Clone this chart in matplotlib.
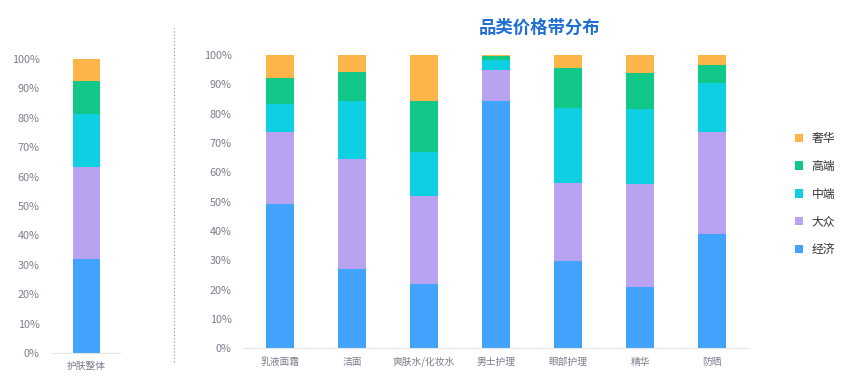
import matplotlib
matplotlib.use("Agg")
import matplotlib.pyplot as plt
from matplotlib.lines import Line2D
from matplotlib.patches import Patch
from matplotlib.ticker import PercentFormatter

plt.rcParams['font.family'] = ['Noto Sans CJK SC', 'DejaVu Sans']

series = ['经济', '大众', '中端', '高端', '奢华']
colors = ['#41a3fb', '#b8a3f0', '#0fd0e2', '#12c888', '#fdb54a']

overall_cat = ['护肤整体']
overall_vals = {
    '经济': [32.0], '大众': [31.3], '中端': [18.0], '高端': [11.1], '奢华': [7.6],
}

cats = ['乳液面霜', '洁面', '爽肤水/化妆水', '男士护理', '眼部护理', '精华', '防晒']
vals = {
    '经济': [49.2, 26.9, 21.9, 84.4, 29.8, 20.8, 38.9],
    '大众': [24.4, 37.8, 30.0, 10.6, 26.6, 35.1, 34.7],
    '中端': [9.6, 19.7, 15.0, 3.3, 25.4, 25.7, 16.9],
    '高端': [9.0, 9.9, 17.3, 1.2, 13.9, 12.1, 6.1],
    '奢华': [7.8, 5.7, 15.8, 0.5, 4.3, 6.3, 3.4],
}
yticks = [0, 10, 20, 30, 40, 50, 60, 70, 80, 90, 100]

W, H = 865, 389
fig = plt.figure(figsize=(W / 100, H / 100), dpi=100)

tick_color = '#7a7f8c'


def style(ax):
    for s in ['top', 'right', 'left']:
        ax.spines[s].set_visible(False)
    ax.spines['bottom'].set_color('#e6e6e6')
    ax.set_ylim(0, 100)
    ax.set_yticks(yticks)
    ax.yaxis.set_major_formatter(PercentFormatter(decimals=0))
    ax.tick_params(axis='both', length=0, colors=tick_color)
    ax.tick_params(axis='y', pad=9, labelsize=7.8)
    ax.tick_params(axis='x', pad=6, labelsize=7)


def stack(ax, labels, data, width):
    x = list(range(len(labels)))
    bottom = [0.0] * len(labels)
    for s, c in zip(series, colors):
        ax.bar(x, data[s], width, bottom=bottom, color=c, label=s)
        bottom = [b + v for b, v in zip(bottom, data[s])]
    ax.set_xticks(x)
    ax.set_xticklabels(labels)


# left axes
ax1 = fig.add_axes([52 / W, 1 - 353 / H, 68 / W, 294 / H])
stack(ax1, overall_cat, overall_vals, 27 / 68)
ax1.set_xlim(-0.5, 0.5)
style(ax1)

# right axes
ax2 = fig.add_axes([244 / W, 1 - 348.3 / H, 504 / W, 293.3 / H])
stack(ax2, cats, vals, 28 / 72)
ax2.set_xlim(-0.5, len(cats) - 0.5)
style(ax2)

# dotted divider
fig.add_artist(Line2D([174 / W, 174 / W], [1 - 362 / H, 1 - 28 / H],
                      transform=fig.transFigure, color='#888888',
                      linestyle=(0, (1, 2)), linewidth=0.8))

fig.text(540 / W, 1 - 28 / H, '品类价格带分布', ha='center', va='center',
         fontsize=12.5, fontweight='bold', color='#1f6fd3')

handles = [Patch(facecolor=c, edgecolor='none') for c in colors][::-1]
leg = fig.legend(handles, series[::-1], loc='center left',
                 bbox_to_anchor=(784 / W, 1 - 194 / H), frameon=False,
                 fontsize=8.5, handlelength=0.7, handleheight=0.7,
                 handletextpad=0.75, labelspacing=1.25)
for t in leg.get_texts():
    t.set_color('#333333')

fig.savefig('out.png', dpi=100, facecolor='white')
